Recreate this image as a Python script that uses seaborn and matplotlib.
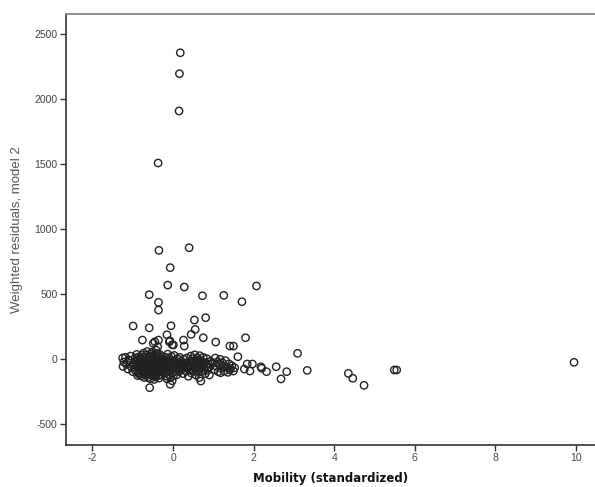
import matplotlib
matplotlib.use("Agg")
import matplotlib.pyplot as plt
import seaborn as sns
import pandas as pd

# ---- data ----
# isolated points (mobility, residual)
mob_out = [0.18, 0.16, 0.15, -0.37, -0.35, 0.40, -0.07, -0.13, 0.28, -0.59, 0.73, 1.26, 2.07,
           1.71, -0.36, -0.36, 0.81, 0.53, -0.99, -0.59, -0.05, 0.55, 0.45, -0.15, -0.76, -0.36,
           0.26, 0.75, 1.06, -0.08, -0.02, 0.28, 1.41, 1.50, 1.80, 1.61, 3.09, -0.49, -0.45,
           -0.09, 0.01, -0.38,
           -0.58, -0.07, -0.02, 0.69, 0.65, 2.68, 2.82, 2.56, 2.32, 2.20, 2.18, 1.91, 1.77,
           1.84, 1.97, 1.41, 1.18, 0.90, 3.33, 4.35, 4.46, 4.74, 5.49, 5.55, 9.95]
res_out = [2358, 2197, 1910, 1510, 838, 858, 705, 571, 556, 497, 489, 492, 564,
           443, 438, 379, 320, 302, 256, 242, 258, 230, 192, 189, 148, 148,
           148, 166, 133, 143, 112, 102, 102, 102, 166, 20, 46, 123, 135,
           135, 110, 97,
           -218, -192, -165, -167, -141, -151, -95, -57, -95, -69, -57, -90, -75,
           -36, -36, -82, -103, -121, -85, -108, -146, -200, -82, -82, -23]

# dense cluster near zero
mob_clu = [-1.25, -1.22, -1.24, -1.18, -1.15, -1.12, -1.08, -1.05, -1.03, -1.00, -0.98, -1.10,
           -0.96, -0.94, -0.93, -0.91, -0.90, -0.88, -0.87, -0.86, -0.84, -0.83, -0.82, -0.80,
           -0.79, -0.78, -0.77, -0.76, -0.75, -0.74, -0.73, -0.72, -0.71, -0.70, -0.69, -0.68,
           -0.67, -0.66, -0.65, -0.64, -0.63, -0.62, -0.61, -0.60, -0.59, -0.58, -0.57, -0.56,
           -0.55, -0.54, -0.53, -0.52, -0.51, -0.50, -0.49, -0.48, -0.47, -0.46, -0.45, -0.44,
           -0.43, -0.42, -0.41, -0.40, -0.39, -0.38, -0.37, -0.36, -0.35, -0.34, -0.33, -0.32,
           -0.31, -0.30, -0.29, -0.28, -0.27, -0.26, -0.25, -0.24, -0.23, -0.22,
           -0.95, -0.92, -0.89, -0.85, -0.81, -0.78, -0.74, -0.71, -0.68, -0.65, -0.63, -0.60,
           -0.58, -0.55, -0.53, -0.50, -0.48, -0.46, -0.44, -0.42, -0.40, -0.38, -0.36, -0.34,
           -0.32, -0.30, -0.28, -0.26, -0.62, -0.52, -0.70, -0.47, -0.57, -0.40, -0.66, -0.35,
           -0.79, -0.76, -0.73, -0.69, -0.67, -0.64, -0.61, -0.59, -0.56, -0.54, -0.51, -0.49,
           -0.47, -0.45, -0.43, -0.41, -0.39, -0.37, -0.35, -0.33, -0.31, -0.29, -0.27, -0.25,
           -0.20, -0.19, -0.18, -0.17, -0.16, -0.15, -0.14, -0.13, -0.12, -0.11, -0.10, -0.09,
           -0.08, -0.07, -0.06, -0.05, -0.04, -0.03, -0.02, -0.01, 0.00, 0.02, 0.03, 0.05,
           0.06, 0.08, 0.09, 0.11, 0.12, 0.14, 0.15, 0.17, 0.18, 0.20, 0.21, 0.23,
           0.25, 0.26, 0.28, 0.30, -0.18, -0.12, -0.05, 0.02, 0.10, -0.15, 0.07,
           0.32, 0.34, 0.36, 0.38, 0.40, 0.42, 0.44, 0.45, 0.47, 0.48, 0.50, 0.51,
           0.53, 0.54, 0.56, 0.57, 0.59, 0.60, 0.62, 0.63, 0.65, 0.66, 0.68, 0.70,
           0.72, 0.73, 0.75, 0.77, 0.79, 0.80, 0.82, 0.84, 0.86, 0.88, 0.90, 0.93,
           0.41, 0.46, 0.52, 0.58, 0.64, 0.49,
           1.00, 1.03, 1.05, 1.08, 1.10, 1.12, 1.15, 1.17, 1.20, 1.22, 1.25, 1.27,
           1.30, 1.33, 1.36, 1.39, 1.42, 1.46, 1.50, 1.53,
           -0.82, -0.77, -0.72, -0.66, -0.61, -0.57, -0.52, -0.48, -0.44, -0.39, -0.34, -0.30,
           -0.80, -0.75, -0.70, -0.64, -0.60, -0.55, -0.50, -0.46, -0.42, -0.37, -0.32, -0.27,
           -0.84, -0.78, -0.73, -0.68, -0.63, -0.58, -0.53, -0.49, -0.45, -0.41, -0.36, -0.31,
           -0.21, -0.16, -0.11, -0.06, -0.02, 0.04, 0.09, 0.13, 0.19, 0.24,
           -0.88, -0.69, -0.54, -0.43, -0.33, -0.24, -0.14, 0.01, 0.16, 0.36, 0.55, 0.71]
res_clu = [10, -20, -55, 15, -40, -75, -10, 25, -60, -95, -30, -5,
           -42, 12, -88, -20, 38, -61, -5, -110, 20, -35, -72, 5,
           -128, -48, 30, -15, -95, -58, 48, -28, -140, -8, -77, 18,
           -45, -105, -22, 60, -63, -2, -118, -38, 25, -84, -12, -150,
           -55, 42, -30, -97, 8, -70, -18, -130, -48, 30, -88, -5,
           -60, 70, -25, -112, -40, 15, -78, -10, -145, -52, 38, -32,
           -95, 0, -65, -20, -120, 22, -45, -82, -8, -58,
           -70, -8, -40, -92, -25, -4, -110, -52, -33, -80, 10, -100,
           -50, -20, -68, -125, -35, -75, -40, -100, -62, -28, -95, -15,
           -75, -48, -90, -28, -140, 55, -118, -155, 5, 45, 35, 20,
           -60, -40, -20, -55, -5, -35, -70, -15, -45, -85, -30, -55,
           -10, -65, -30, -80, -5, -50, -70, -2, -55, -35, -75, -12,
           -30, -100, 15, -60, -130, -10, -78, 40, -45, -115, -20, -88,
           5, -55, -140, -28, 22, -72, -40, -105, -12, -60, 30, -90,
           -25, -50, -120, 5, -70, -35, -95, 15, -55, -15, -80, -40,
           -110, 0, -62, -28, -65, -5, -85, -30, -45, -150, -75,
           -90, 10, -50, -130, -20, -72, 25, -105, -40, 5, -85, -15,
           -60, 35, -120, -30, -75, 10, -48, -100, -20, 28, -65, -10,
           -95, -40, 15, -78, -25, -110, -55, 5, -85, -35, -60, -15,
           -58, -88, -45, -5, -80, -25,
           -30, -80, 10, -55, -20, -95, -40, 0, -70, -25, -50, -90,
           -10, -60, -100, -35, -70, -50, -90, -65,
           -15, -50, -85, -30, -60, -5, -40, -75, -20, -55, -90, -35,
           -65, -25, -45, -90, -10, -70, -35, -100, -50, -20, -80, -60,
           -105, -5, -70, -115, -25, -95, -60, -120, 0, -45, -125, -85,
           -50, -30, -65, -45, -55, -20, -70, -85, -35, -55,
           -125, -90, -110, -135, -10, -60, -45, -125, -30, -60, -50, -55]

x_ticks = [-2, 0, 2, 4, 6, 8, 10]
y_ticks = [-500, 0, 500, 1000, 1500, 2000, 2500]

df = pd.DataFrame({"mobility": mob_out + mob_clu, "residual": res_out + res_clu})

sns.set_style("white")
plt.rcParams["font.family"] = ["Liberation Sans", "DejaVu Sans"]

fig = plt.figure(figsize=(5.95, 4.87), dpi=100)
ax = fig.add_axes([66 / 595, 1 - 445 / 487, (595 - 66) / 595, (445 - 14) / 487])

sns.scatterplot(data=df, x="mobility", y="residual", ax=ax, marker="o", s=28,
                facecolor="none", edgecolor="#222222", linewidth=1.0)

ax.set_xlim(-2.655, 10.47)
ax.set_ylim(-659, 2656)
ax.set_xticks(x_ticks)
ax.set_yticks(y_ticks)
ax.set_xticklabels([str(v) for v in x_ticks])
ax.set_yticklabels([str(v) for v in y_ticks])

for side in ["left", "bottom"]:
    ax.spines[side].set_color("#333333")
    ax.spines[side].set_linewidth(1.2)
ax.spines["top"].set_color("#888888")
ax.spines["top"].set_linewidth(1.3)
ax.spines["right"].set_visible(False)

ax.tick_params(axis="both", direction="out", length=4, width=1.0, color="#333333",
               labelsize=7.5, labelcolor="#444444", pad=2,
               left=True, bottom=True)

ax.set_xlabel("Mobility (standardized)", fontsize=8.5, fontweight="bold", color="#111111",
              family=["DejaVu Sans"], labelpad=6)
ax.set_ylabel("Weighted residuals, model 2", fontsize=9.5, color="#555555", labelpad=8)

fig.savefig("out.png", dpi=100)
